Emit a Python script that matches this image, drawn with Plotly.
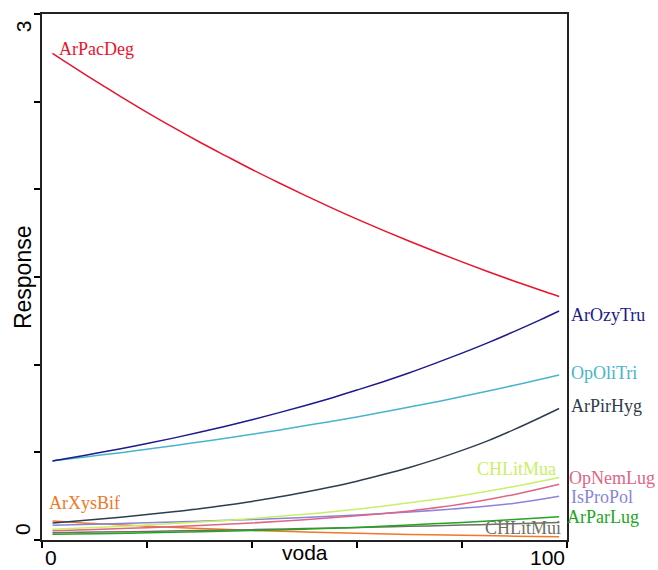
import plotly.graph_objects as go

# Gradient position along the "voda" axis (dense grid for the steep curves)
voda_fine = [2, 5, 10, 15, 20, 25, 30, 35, 40, 45, 50, 55, 60, 65, 70, 75, 80, 85, 90, 95, 98.5]
voda = [2, 10, 20, 30, 40, 50, 60, 70, 80, 90, 98.5]

# Fitted species responses
ArPacDeg = [2.776, 2.717, 2.621, 2.529, 2.439, 2.353, 2.270, 2.191, 2.113, 2.039, 1.967,
            1.897, 1.830, 1.766, 1.704, 1.644, 1.586, 1.530, 1.476, 1.424, 1.389]
ArOzyTru = [0.451, 0.466, 0.493, 0.521, 0.550, 0.581, 0.614, 0.649, 0.686, 0.725, 0.766,
            0.809, 0.855, 0.903, 0.954, 1.009, 1.066, 1.126, 1.190, 1.257, 1.306]
OpOliTri = [0.451, 0.462, 0.480, 0.498, 0.518, 0.538, 0.559, 0.580, 0.603, 0.626, 0.651,
            0.676, 0.702, 0.730, 0.758, 0.787, 0.818, 0.850, 0.883, 0.917, 0.941]
ArPirHyg = [0.097, 0.104, 0.117, 0.130, 0.145, 0.161, 0.178, 0.198, 0.220, 0.245, 0.272,
            0.302, 0.335, 0.373, 0.414, 0.460, 0.511, 0.567, 0.631, 0.700, 0.750]
CHLitMua = [0.061, 0.071, 0.085, 0.102, 0.122, 0.147, 0.176, 0.212, 0.254, 0.305, 0.356]
OpNemLug = [0.053, 0.060, 0.070, 0.082, 0.097, 0.115, 0.138, 0.166, 0.205, 0.260, 0.318]
IsProPol = [0.084, 0.090, 0.098, 0.107, 0.117, 0.129, 0.143, 0.160, 0.181, 0.210, 0.250]
ArParLug = [0.033, 0.036, 0.041, 0.047, 0.054, 0.062, 0.072, 0.086, 0.100, 0.117, 0.133]
CHLitMui = [0.042, 0.045, 0.049, 0.054, 0.059, 0.065, 0.071, 0.078, 0.085, 0.093, 0.100]
ArXysBif = [0.109, 0.094, 0.079, 0.066, 0.055, 0.046, 0.038, 0.032, 0.027, 0.022, 0.019]

series = [
    ("ArXysBif", voda, ArXysBif, "#f07828"),
    ("CHLitMui", voda, CHLitMui, "#707066"),
    ("ArParLug", voda, ArParLug, "#22a522"),
    ("IsProPol", voda, IsProPol, "#8a84dc"),
    ("OpNemLug", voda, OpNemLug, "#e06484"),
    ("CHLitMua", voda, CHLitMua, "#c8f064"),
    ("ArPirHyg", voda_fine, ArPirHyg, "#2e3d4e"),
    ("OpOliTri", voda_fine, OpOliTri, "#48b4cc"),
    ("ArOzyTru", voda_fine, ArOzyTru, "#1c1a8c"),
    ("ArPacDeg", voda_fine, ArPacDeg, "#e8142e"),
]

# Label placement: (name, x, xref, xanchor, y)
labels = [
    ("ArPacDeg", 2.8, "x", "left", 2.80),
    ("ArOzyTru", 1.004, "paper", "left", 1.282),
    ("OpOliTri", 1.004, "paper", "left", 0.954),
    ("ArPirHyg", 1.004, "paper", "left", 0.766),
    ("CHLitMua", 98.3, "x", "right", 0.406),
    ("OpNemLug", 1.0, "paper", "left", 0.354),
    ("IsProPol", 1.004, "paper", "left", 0.246),
    ("ArParLug", 0.997, "paper", "left", 0.131),
    ("CHLitMui", 99.2, "x", "right", 0.069),
    ("ArXysBif", 1.0, "x", "left", 0.211),
]
colors = {name: c for name, _, _, c in series}

fig = go.Figure()
for name, xs, vals, col in series:
    fig.add_trace(go.Scatter(
        x=xs, y=vals, mode="lines", name=name,
        line=dict(color=col, width=1.5, shape="spline", smoothing=1.0),
        showlegend=False, hoverinfo="skip",
    ))

annotations = []
for name, x, xref, xa, y in labels:
    annotations.append(dict(
        text=name, x=x, xref=xref, y=y, yref="y", xanchor=xa, yanchor="middle",
        showarrow=False, font=dict(family="Liberation Serif", size=18, color=colors[name]),
    ))

axis_font = dict(family="Liberation Sans, Arial", size=21, color="black")
# end labels of the axes, set inside the axis ends
annotations += [
    dict(text="0", x=0, xref="x", xanchor="left", xshift=1, y=-0.033, yref="paper",
         yanchor="middle", showarrow=False, font=axis_font),
    dict(text="100", x=100, xref="x", xanchor="right", y=-0.033, yref="paper",
         yanchor="middle", showarrow=False, font=axis_font),
    dict(text="3", x=-0.036, xref="paper", xanchor="center", y=0.977, yref="paper",
         yanchor="middle", textangle=-90, showarrow=False, font=axis_font),
    dict(text="0", x=-0.036, xref="paper", xanchor="center", y=0.021, yref="paper",
         yanchor="middle", textangle=-90, showarrow=False, font=axis_font),
    dict(text="voda", x=0.5, xref="paper", xanchor="center", y=-0.023, yref="paper",
         yanchor="middle", showarrow=False, font=axis_font),
    dict(text="Response", x=-0.036, xref="paper", xanchor="center", y=0.5, yref="paper",
         yanchor="middle", textangle=-90, showarrow=False,
         font=dict(family="Liberation Sans, Arial", size=23, color="black")),
]

fig.update_layout(
    width=658, height=570,
    margin=dict(l=42, r=91, t=14, b=30),
    paper_bgcolor="white", plot_bgcolor="white",
    annotations=annotations,
    xaxis=dict(range=[0, 100], tickvals=[0, 20, 40, 60, 80, 100], showticklabels=False,
               ticks="outside", ticklen=6, tickwidth=1.5, tickcolor="black",
               showgrid=False, zeroline=False, showline=True, linecolor="#222",
               linewidth=1.5, mirror=True),
    yaxis=dict(range=[0, 3], tickvals=[0, 0.5, 1, 1.5, 2, 2.5, 3], showticklabels=False,
               ticks="outside", ticklen=6, tickwidth=1.5, tickcolor="black",
               showgrid=False, zeroline=False, showline=True, linecolor="#222",
               linewidth=1.5, mirror=True),
)

fig.write_html("out.html")
